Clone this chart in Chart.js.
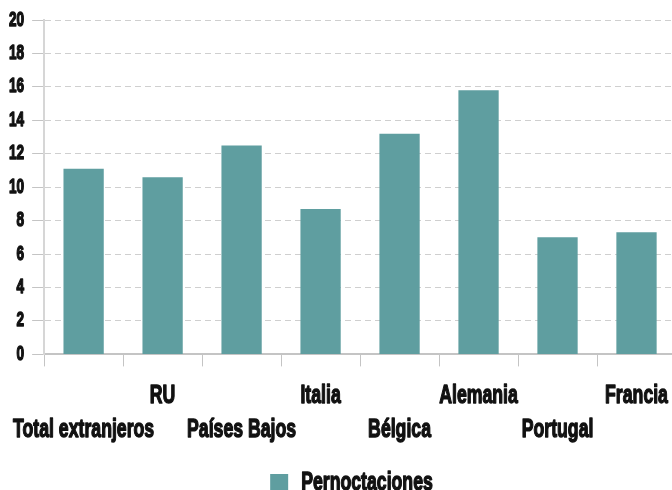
<!DOCTYPE html>
<html>
<head>
<meta charset="utf-8">
<script src="https://cdn.jsdelivr.net/npm/chart.js@4"></script>
<style>
    html, body { margin: 0; padding: 0; overflow: hidden; background: #fff; }
    #wrap { width: 702px; height: 500px; position: relative; }
</style>
</head>
<body>
<div id="wrap"><canvas id="chart"></canvas></div>
<script>
const BAR_COLOR = '#5f9ea0';
const AXIS_COLOR = '#c4c4c4';
const FONT_FAMILY = '"Liberation Sans", Arial, sans-serif';
// the original uses a tall condensed face; squeeze the text horizontally
const TEXT_SQUEEZE = 0.68;

const categories = ['Total extranjeros', 'RU', 'Países Bajos', 'Italia', 'Bélgica', 'Alemania', 'Portugal', 'Francia'];
const pernoctaciones = [11.1, 10.6, 12.5, 8.7, 13.2, 15.8, 7.0, 7.3];
const yTicks = [0, 2, 4, 6, 8, 10, 12, 14, 16, 18, 20];

// even labels go on the lower row, odd ones on the upper row
const staggeredLabels = categories.map((name, i) => (i % 2 === 0 ? ['', name] : [name]));

const canvas = document.getElementById('chart');
const ctx = canvas.getContext('2d');
const rawFillText = ctx.fillText.bind(ctx);
const rawStrokeText = ctx.strokeText.bind(ctx);
const rawMeasureText = ctx.measureText.bind(ctx);
ctx.fillText = (text, x, y) => {
    ctx.save();
    ctx.translate(x, y);
    ctx.scale(TEXT_SQUEEZE, 1);
    ctx.strokeStyle = ctx.fillStyle;
    ctx.lineWidth = 1.4;
    ctx.lineJoin = 'round';
    rawStrokeText(text, 0, 0);
    rawFillText(text, 0, 0);
    ctx.restore();
};
ctx.measureText = (text) => {
    const m = rawMeasureText(text);
    return {
        width: m.width * TEXT_SQUEEZE,
        actualBoundingBoxAscent: m.actualBoundingBoxAscent,
        actualBoundingBoxDescent: m.actualBoundingBoxDescent
    };
};

new Chart(canvas, {
    type: 'bar',
    data: {
        labels: staggeredLabels,
        datasets: [{
            label: 'Pernoctaciones',
            data: pernoctaciones,
            backgroundColor: BAR_COLOR,
            borderWidth: 0,
            barPercentage: 0.51,
            categoryPercentage: 1
        }]
    },
    options: {
        responsive: true,
        maintainAspectRatio: false,
        animation: false,
        layout: { padding: { left: 1, right: 0, top: 16, bottom: -6 } },
        plugins: {
            tooltip: { enabled: false },
            legend: {
                position: 'bottom',
                labels: {
                    boxWidth: 18,
                    boxHeight: 18,
                    padding: 10,
                    color: '#111',
                    font: { family: FONT_FAMILY, size: 26, weight: 'bold' }
                }
            }
        },
        scales: {
            x: {
                offset: true,
                // long first label should not push the plot to the right
                afterFit: (scale) => { scale.paddingLeft = 0; scale.paddingRight = 0; },
                grid: {
                    offset: true,
                    drawOnChartArea: false,
                    tickLength: 12,
                    color: AXIS_COLOR
                },
                border: { color: AXIS_COLOR, width: 2 },
                ticks: {
                    autoSkip: false,
                    maxRotation: 0,
                    minRotation: 0,
                    padding: 13,
                    color: '#111',
                    font: { family: FONT_FAMILY, size: 26, weight: 'bold', lineHeight: 1.3 }
                }
            },
            y: {
                min: 0,
                max: 20,
                afterBuildTicks: (scale) => { scale.ticks = yTicks.map((v) => ({ value: v })); },
                grid: {
                    color: '#cfcfcf',
                    tickLength: 12,
                    tickColor: AXIS_COLOR,
                    tickBorderDash: []
                },
                border: { color: '#d6d6d6', width: 2, dash: [6, 4] },
                ticks: {
                    padding: 8,
                    color: '#111',
                    font: { family: FONT_FAMILY, size: 20, weight: 'bold' }
                }
            },
            // empty strip on the right, the plot runs past the visible edge
            yRight: {
                position: 'right',
                display: true,
                grid: { display: false },
                border: { display: false },
                ticks: { display: false },
                afterFit: (scale) => { scale.width = 26; }
            }
        }
    }
});
</script>
</body>
</html>
